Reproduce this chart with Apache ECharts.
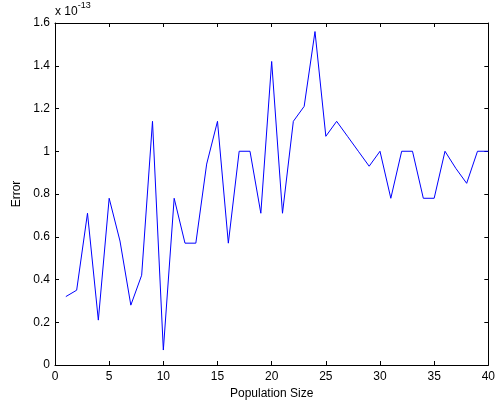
<!DOCTYPE html>
<html>
<head>
<meta charset="utf-8">
<script src="https://cdn.jsdelivr.net/npm/echarts@6/dist/echarts.min.js"></script>
<style>
html,body{margin:0;padding:0;background:#fff;}
#c{width:498px;height:407px;}
</style>
</head>
<body>
<div id="c"></div>
<script>
// Population sizes (x) and error values in units of 1e-13 (y)
const populationSize = [1,2,3,4,5,6,7,8,9,10,11,12,13,14,15,16,17,18,19,20,21,22,23,24,25,26,27,28,29,30,31,32,33,34,35,36,37,38,39,40];
const errorValues = [0.32,0.35,0.71,0.21,0.78,0.58,0.28,0.42,1.14,0.07,0.78,0.57,0.57,0.94,1.14,0.57,1.0,1.0,0.71,1.42,0.71,1.14,1.21,1.56,1.07,1.14,1.07,1.0,0.93,1.0,0.78,1.0,1.0,0.78,0.78,1.0,0.92,0.85,1.0,1.0];
const scaleExponent = '-13';
const xLabel = 'Population Size';
const yLabel = 'Error';

const chart = echarts.init(document.getElementById('c'), null, {renderer: 'canvas'});
const font = 'Liberation Sans, Arial, Helvetica, sans-serif';
const fs = 12;
const axisCommon = {
  axisLine: {show: true, onZero: false, lineStyle: {color: '#000', width: 1}},
  axisTick: {show: true, inside: true, length: 4, lineStyle: {color: '#000'}},
  splitLine: {show: false},
  axisLabel: {color: '#000', fontFamily: font, fontSize: fs}
};
chart.setOption({
  animation: false,
  backgroundColor: '#fff',
  grid: {left: 55, right: 7, top: 23, bottom: 42},
  xAxis: [
    Object.assign({}, axisCommon, {
      type: 'value', min: 0, max: 40, interval: 5, position: 'bottom',
      name: xLabel, nameLocation: 'middle', nameGap: 21,
      nameTextStyle: {color: '#000', fontFamily: font, fontSize: fs},
      axisLabel: Object.assign({}, axisCommon.axisLabel, {margin: 6})
    }),
    Object.assign({}, axisCommon, {
      type: 'value', min: 0, max: 40, interval: 5, position: 'top',
      axisLabel: {show: false}
    })
  ],
  yAxis: [
    Object.assign({}, axisCommon, {
      type: 'value', min: 0, max: 1.6, interval: 0.2, position: 'left',
      name: yLabel, nameLocation: 'middle', nameGap: 31,
      nameTextStyle: {color: '#000', fontFamily: font, fontSize: fs},
      axisLabel: Object.assign({}, axisCommon.axisLabel, {margin: 5})
    }),
    Object.assign({}, axisCommon, {
      type: 'value', min: 0, max: 1.6, interval: 0.2, position: 'right',
      axisLabel: {show: false}
    })
  ],
  graphic: [{
    type: 'text', left: 55, top: 1,
    style: {
      text: '{b|x 10}{s|' + scaleExponent + '}',
      rich: {
        b: {fontFamily: font, fontSize: fs, fill: '#000', padding: [7, 0, 0, 0]},
        s: {fontFamily: font, fontSize: 9, fill: '#000', padding: [0, 0, 5, 0]}
      }
    }
  }],
  series: [{
    type: 'line',
    data: populationSize.map((x, i) => [x, errorValues[i]]),
    showSymbol: false,
    lineStyle: {color: '#0000ff', width: 1},
    itemStyle: {color: '#0000ff'}
  }]
});
</script>
</body>
</html>
